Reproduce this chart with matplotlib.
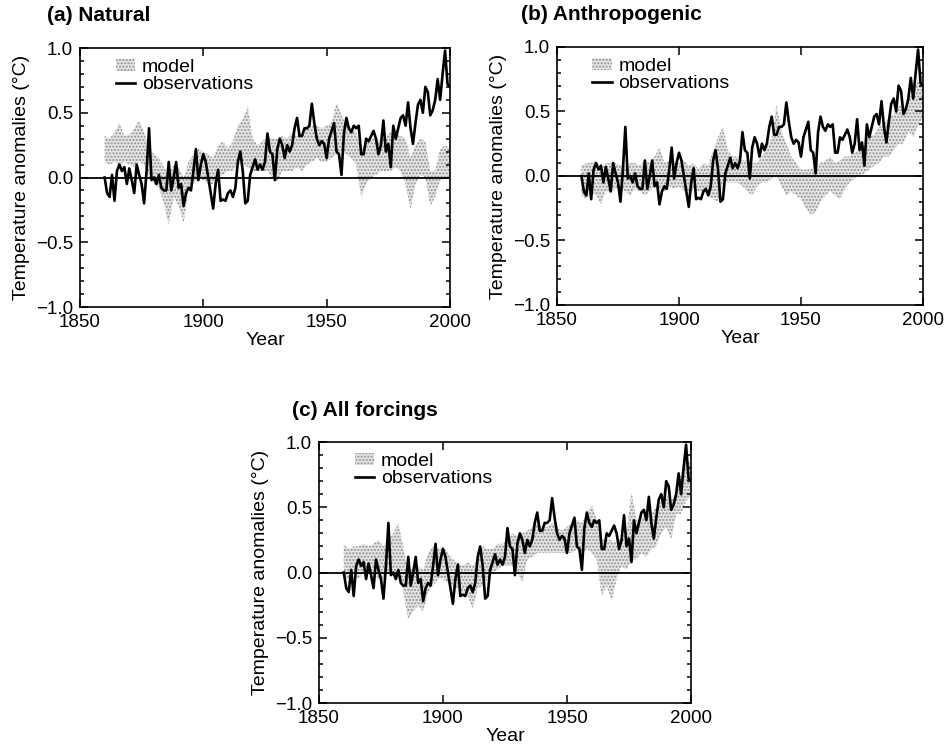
import matplotlib
matplotlib.use("Agg")
import matplotlib.pyplot as plt
from matplotlib.patches import Patch
from matplotlib.lines import Line2D
from matplotlib.ticker import MultipleLocator, FuncFormatter

plt.rcParams['font.family'] = ['Liberation Sans', 'DejaVu Sans']

# ---------------- data ----------------
obs_years = list(range(1860, 2001))
obs = [0.00, -0.12, -0.15, 0.02, -0.18, 0.05, 0.10, 0.05, 0.08, -0.05,
       0.07, -0.02, -0.12, 0.10, 0.02, -0.05, -0.20, 0.05, 0.38, -0.02,
       0.00, -0.05, 0.02, -0.08, -0.10, -0.10, 0.12, -0.10, 0.00, 0.12,
       -0.08, -0.05, -0.22, -0.12, -0.08, -0.10, 0.05, 0.22, -0.02, 0.10,
       0.18, 0.12, 0.00, -0.12, -0.24, -0.05, 0.06, -0.18, -0.17, -0.18,
       -0.12, -0.10, -0.15, -0.08, 0.12, 0.20, 0.05, -0.20, -0.18, 0.02,
       0.08, 0.14, 0.06, 0.10, 0.06, 0.12, 0.34, 0.20, 0.18, -0.02,
       0.22, 0.30, 0.25, 0.15, 0.25, 0.20, 0.25, 0.38, 0.46, 0.32,
       0.32, 0.38, 0.38, 0.40, 0.57, 0.42, 0.30, 0.25, 0.28, 0.26,
       0.15, 0.30, 0.36, 0.42, 0.20, 0.18, 0.02, 0.34, 0.46, 0.38,
       0.35, 0.40, 0.38, 0.40, 0.18, 0.18, 0.30, 0.28, 0.32, 0.36,
       0.30, 0.18, 0.25, 0.44, 0.20, 0.26, 0.08, 0.40, 0.30, 0.38,
       0.46, 0.48, 0.40, 0.58, 0.38, 0.26, 0.42, 0.56, 0.60, 0.50,
       0.70, 0.66, 0.48, 0.52, 0.60, 0.76, 0.60, 0.80, 0.98, 0.72,
       0.70]

model_years = list(range(1860, 2001, 2))

nat_lo = [0.12, 0.10, 0.12, 0.10, 0.12, 0.10, 0.08, 0.12, 0.10, 0.00,
          -0.05, -0.08, -0.20, -0.36, -0.15, -0.22, -0.35, -0.10, -0.05, 0.00,
          -0.02, -0.05, -0.05, 0.00, 0.02, 0.05, 0.05, 0.10, 0.10, 0.08,
          0.05, 0.05, 0.05, 0.05, 0.00, -0.03, 0.05, 0.05, 0.05, 0.08,
          0.05, 0.10, 0.12, 0.15, 0.12, 0.12, 0.15, 0.18, 0.20, 0.18,
          0.15, 0.10, -0.15, -0.05, 0.00, 0.02, 0.05, 0.05, 0.05, 0.08,
          0.05, -0.05, -0.25, -0.05, 0.02, 0.00, -0.22, -0.15, -0.02, 0.00,
          0.00]
nat_hi = [0.32, 0.30, 0.35, 0.42, 0.32, 0.33, 0.38, 0.44, 0.35, 0.22,
          0.18, 0.15, 0.08, 0.02, 0.10, 0.08, 0.00, 0.12, 0.18, 0.22,
          0.20, 0.18, 0.15, 0.25, 0.28, 0.22, 0.28, 0.40, 0.45, 0.55,
          0.30, 0.25, 0.28, 0.32, 0.30, 0.30, 0.32, 0.30, 0.35, 0.32,
          0.35, 0.38, 0.40, 0.40, 0.38, 0.40, 0.42, 0.58, 0.48, 0.40,
          0.38, 0.35, 0.20, 0.28, 0.30, 0.30, 0.28, 0.32, 0.35, 0.35,
          0.32, 0.30, 0.15, 0.25, 0.30, 0.28, 0.05, 0.05, 0.22, 0.25,
          0.22]

ant_lo = [-0.15, -0.18, -0.12, -0.15, -0.22, -0.12, -0.12, -0.10, -0.10, -0.12,
          -0.15, -0.10, -0.12, -0.15, -0.12, -0.08, -0.10, -0.12, -0.08, -0.10,
          -0.08, -0.12, -0.15, -0.10, -0.12, -0.12, -0.15, -0.18, -0.20, -0.05,
          -0.05, -0.05, -0.05, -0.08, -0.12, -0.15, -0.08, -0.05, -0.05, -0.02,
          0.00, -0.08, -0.15, -0.12, -0.15, -0.18, -0.25, -0.30, -0.28, -0.20,
          -0.15, -0.12, -0.15, -0.18, -0.10, -0.05, -0.02, 0.00, 0.02, 0.05,
          0.08, 0.10, 0.15, 0.15, 0.20, 0.25, 0.25, 0.35, 0.30, 0.40,
          0.45]
ant_hi = [0.08, 0.10, 0.10, 0.12, 0.05, 0.10, 0.10, 0.10, 0.08, 0.08,
          0.10, 0.10, 0.08, 0.12, 0.10, 0.15, 0.22, 0.10, 0.12, 0.10,
          0.10, 0.12, 0.08, 0.10, 0.05, 0.10, 0.08, 0.20, 0.30, 0.38,
          0.20, 0.15, 0.15, 0.12, 0.12, 0.10, 0.10, 0.15, 0.22, 0.30,
          0.55, 0.35, 0.25, 0.15, 0.10, 0.05, 0.05, 0.05, 0.08, 0.10,
          0.12, 0.15, 0.10, 0.12, 0.15, 0.15, 0.18, 0.20, 0.25, 0.30,
          0.32, 0.38, 0.40, 0.45, 0.48, 0.55, 0.52, 0.60, 0.65, 0.75,
          0.80]

all_lo = [-0.05, -0.05, 0.00, -0.05, 0.00, 0.00, -0.02, -0.05, -0.05, 0.00,
          -0.02, 0.00, -0.15, -0.36, -0.30, -0.25, -0.30, -0.15, -0.10, -0.05,
          -0.05, -0.08, -0.10, -0.12, -0.15, -0.18, -0.28, -0.12, -0.10, -0.05,
          0.00, 0.02, 0.05, 0.05, 0.05, 0.00, -0.08, 0.10, 0.12, 0.15,
          0.15, 0.15, 0.15, 0.15, 0.15, 0.15, 0.15, 0.18, 0.15, 0.18,
          0.15, 0.10, -0.18, -0.10, -0.22, -0.05, 0.05, 0.02, 0.10, 0.10,
          0.15, 0.12, 0.18, 0.20, 0.30, 0.35, 0.25, 0.45, 0.45, 0.55,
          0.60]
all_hi = [0.22, 0.18, 0.20, 0.20, 0.22, 0.20, 0.22, 0.25, 0.20, 0.25,
          0.30, 0.38, 0.20, -0.02, 0.05, 0.05, 0.02, 0.15, 0.20, 0.18,
          0.20, 0.15, 0.10, 0.08, 0.05, 0.08, 0.05, 0.10, 0.20, 0.18,
          0.18, 0.22, 0.22, 0.25, 0.30, 0.28, 0.30, 0.32, 0.35, 0.38,
          0.35, 0.35, 0.38, 0.35, 0.32, 0.35, 0.38, 0.40, 0.38, 0.45,
          0.52, 0.40, 0.25, 0.25, 0.25, 0.22, 0.28, 0.30, 0.62, 0.40,
          0.42, 0.45, 0.45, 0.50, 0.55, 0.60, 0.55, 0.62, 0.75, 0.85,
          0.85]

titles = ["(a) Natural", "(b) Anthropogenic", "(c) All forcings"]
model_lo = [nat_lo, ant_lo, all_lo]
model_hi = [nat_hi, ant_hi, all_hi]
xticks = [1850, 1900, 1950, 2000]
yticks = [-1.0, -0.5, 0.0, 0.5, 1.0]

# ---------------- layout ----------------
fig = plt.figure(figsize=(9.53, 7.56), dpi=100)
positions = [
    (0.0839, 0.5939, 0.3883, 0.3426),
    (0.5845, 0.5966, 0.3840, 0.3413),
    (0.3347, 0.0701, 0.3904, 0.3452),
]
title_off = [(-0.089, 1.127), (-0.098, 1.124), (-0.073, 1.119)]

face = '#e6e6e6'
dots = '#8e8e8e'
plt.rcParams['hatch.linewidth'] = 1.0


def yfmt(v, pos):
    s = '%.1f' % abs(v)
    return ('\u2212' + s) if v < -1e-9 else s


for i, pos in enumerate(positions):
    ax = fig.add_axes(pos)
    ax.fill_between(model_years, model_lo[i], model_hi[i], facecolor=face,
                    edgecolor=dots, hatch='.....', linewidth=0, zorder=1)
    ax.axhline(0.0, color='black', lw=1.3, zorder=2)
    ax.plot(obs_years, obs, color='black', lw=1.9, zorder=3)

    ax.set_xlim(1850, 2000)
    ax.set_ylim(-1.0, 1.0)
    ax.set_xticks(xticks)
    ax.set_yticks(yticks)
    ax.yaxis.set_minor_locator(MultipleLocator(0.1))
    ax.yaxis.set_major_formatter(FuncFormatter(yfmt))
    ax.tick_params(which='both', direction='in', top=True, right=True,
                   labelsize=13.5, width=1.1)
    ax.tick_params(which='major', length=6, pad=5)
    ax.tick_params(which='minor', length=3)
    for sp in ax.spines.values():
        sp.set_linewidth(1.2)

    ax.set_xlabel('Year', fontsize=14, labelpad=1)
    ax.set_ylabel('Temperature anomalies (°C)', fontsize=14, labelpad=4)
    ax.text(title_off[i][0], title_off[i][1], titles[i], transform=ax.transAxes,
            fontsize=15, fontweight='bold', ha='left', va='center')

    handles = [Patch(facecolor=face, edgecolor=dots, hatch='.....', linewidth=0),
               Line2D([], [], color='black', lw=1.9)]
    ax.legend(handles, ['model', 'observations'], loc='upper left',
              bbox_to_anchor=(0.07, 0.995), frameon=False, fontsize=14,
              borderpad=0, labelspacing=0.0, handlelength=1.0,
              handleheight=0.6, handletextpad=0.35)

fig.savefig('out.png', dpi=100)
